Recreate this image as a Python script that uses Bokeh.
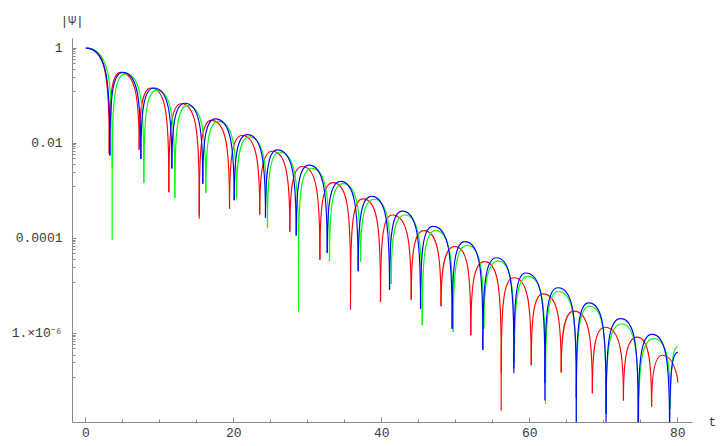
from bokeh.plotting import figure
from bokeh.models import Range1d, FixedTicker, CustomJSTickFormatter, LogAxis
from bokeh.embed import file_html
from bokeh.resources import INLINE

# ---------------- data ----------------
# red curve
red_peak_t = [0.0, 4.69, 8.83, 12.89, 16.94, 21.10, 25.18, 29.24, 33.38, 37.44,
              41.40, 45.68, 49.87, 53.88, 57.84, 61.80, 65.95, 70.14, 74.50, 77.90]
red_peak = [1.0, 0.309, 0.145, 0.0676, 0.0302, 0.0145, 6.76e-3, 3.24e-3, 1.48e-3, 6.76e-4,
            3.09e-4, 1.45e-4, 6.76e-5, 3.24e-5, 1.48e-5, 6.76e-6, 2.95e-6, 1.35e-6, 8.32e-7, 3.47e-7]
red_zero_t = [3.16, 7.21, 11.22, 15.32, 19.42, 23.50, 27.57, 31.63, 35.77, 39.82,
              43.97, 48.00, 52.03, 56.13, 60.19, 64.24, 68.45, 72.65, 76.45]
red_dip = [6.03e-3, 7.24e-3, 9.33e-4, 2.57e-4, 4.17e-4, 3.16e-4, 1.38e-4, 3.55e-5, 3.16e-6, 4.57e-6,
           5.13e-6, 3.72e-6, 9.12e-7, 2.40e-8, 2.14e-7, 1.51e-7, 5.50e-8, 3.89e-8, 2.88e-8]
red_end_t = 80.0
red_end = 9.33e-8

# green curve
green_peak_t = [0.0, 5.36, 9.55, 13.70, 17.89, 22.10, 26.20, 30.50, 34.73, 38.92,
                43.10, 47.26, 51.53, 55.73, 59.73, 63.85, 68.10, 72.40, 76.76]
green_peak = [1.0, 0.288, 0.129, 0.0617, 0.0288, 0.0135, 6.46e-3, 2.95e-3, 1.41e-3, 6.61e-4,
              3.09e-4, 1.45e-4, 7.08e-5, 3.31e-5, 1.58e-5, 7.59e-6, 3.72e-6, 1.58e-6, 7.76e-7]
green_zero_t = [3.56, 7.84, 12.03, 16.22, 20.36, 24.55, 28.74, 32.93, 37.12, 41.27,
                45.46, 49.65, 53.79, 57.92, 62.12, 66.30, 70.30, 74.68, 79.00]
green_dip = [9.33e-5, 1.45e-3, 7.08e-4, 9.12e-4, 6.76e-4, 1.66e-4, 2.82e-6, 3.31e-5, 3.16e-5, 1.10e-5,
             1.48e-6, 1.07e-6, 1.26e-6, 2.51e-7, 3.31e-8, 1.0e-9, 2.04e-8, 1.0e-9, 2.57e-8]
green_end_t = 80.0
green_end = 5.25e-7

# blue curve
blue_peak_t = [0.0, 5.00, 9.19, 13.38, 17.48, 21.80, 25.86, 30.14, 34.42, 38.60,
               42.75, 46.90, 51.20, 55.50, 59.42, 63.80, 67.97, 72.26, 76.50]
blue_peak = [1.0, 0.309, 0.145, 0.0692, 0.0324, 0.0151, 7.24e-3, 3.47e-3, 1.58e-3, 7.59e-4,
             3.72e-4, 1.78e-4, 8.51e-5, 3.89e-5, 1.86e-5, 9.12e-6, 4.37e-6, 2.04e-6, 9.55e-7]
blue_zero_t = [3.25, 7.44, 11.63, 15.81, 20.05, 24.28, 28.43, 32.62, 36.80, 41.04,
               45.23, 49.50, 53.65, 57.84, 62.03, 66.27, 70.30, 74.64, 78.88]
blue_dip = [5.50e-3, 4.68e-3, 2.95e-3, 1.41e-3, 6.31e-4, 2.69e-4, 1.15e-4, 4.90e-5, 2.04e-5, 8.32e-6,
            3.31e-6, 1.26e-6, 4.47e-7, 1.45e-7, 3.89e-8, 1.0e-9, 1.0e-9, 1.0e-9, 1.0e-9]
blue_end_t = 80.0
blue_end = 3.98e-7

# axes
x_major = [0, 20, 40, 60, 80]
x_minor = [5, 10, 15, 25, 30, 35, 45, 50, 55, 65, 70, 75]
y_major = [1.0, 1e-2, 1e-4, 1e-6]
y_labels = ["1", "0.01", "0.0001", "1.\u00d710\u207b\u2076"]
y_minor_mant = [0.92, 0.85, 0.76, 0.67, 0.58, 0.47, 0.35, 0.24, 0.12]
x_start, x_end = -1.80, 81.98
y_start, y_end = 1.337e-8, 1.592
y_axis_name = "|\u03a8|"
x_axis_name = "t"

# ---------------- styling constants ----------------
HANDLE = 0.8      # horizontal handle length at a crest (fraction of half-lobe)
KNEE = 0.295      # height of the vertical handle (ratio of crest value)
SHOULDER = 0.01   # where the vertical spike into a dip begins (ratio of crest value)
LW = 1.15
AXIS_COLOR = "#8a8a8a"
TEXT_COLOR = "#3a3a3a"
FONT = "Liberation Mono"

p = figure(width=722, height=446, output_backend="svg", toolbar_location=None,
           y_axis_type="log",
           x_range=Range1d(x_start, x_end), y_range=Range1d(y_start, y_end),
           min_border_left=72, min_border_right=30, min_border_top=38, min_border_bottom=24)
p.outline_line_color = None
p.grid.visible = False
p.background_fill_color = "white"
p.border_fill_color = "white"

# y-axis name shown as the (left-aligned) title over the y axis
p.title.text = y_axis_name
p.title.align = "left"
p.title.offset = -12
p.title.standoff = 20
p.title.text_font = FONT
p.title.text_font_size = "13px"
p.title.text_font_style = "normal"
p.title.text_color = TEXT_COLOR


def build(peak_t, peak_v, zero_t, dip_v, end_t, end_v):
    b = {k: [] for k in ("x0", "y0", "x1", "y1", "cx0", "cy0", "cx1", "cy1")}
    s = {"x": [], "ya": [], "yb": []}

    def add(x0, y0, x1, y1, cx0, cy0, cx1, cy1):
        for k, v in zip(("x0", "y0", "x1", "y1", "cx0", "cy0", "cx1", "cy1"),
                        (x0, y0, x1, y1, cx0, cy0, cx1, cy1)):
            b[k].append(v)

    def fall(tp, vp, tz, vs):
        add(tp, vp, tz, vs, tp + HANDLE * (tz - tp), vp, tz, max(vp * KNEE, vs))

    def rise(tz, vs, tp, vp):
        add(tz, vs, tp, vp, tz, max(vp * KNEE, vs), tp - HANDLE * (tp - tz), vp)

    n = len(zero_t)
    for i in range(n):
        tz, vz = zero_t[i], dip_v[i]
        tp, vp = peak_t[i], peak_v[i]
        shl = max(vz, vp * SHOULDER)
        fall(tp, vp, tz, shl)
        if i + 1 < len(peak_t):
            tn, vn = peak_t[i + 1], peak_v[i + 1]
        else:
            tn, vn = end_t, end_v
        shr = max(vz, vn * SHOULDER)
        rise(tz, shr, tn, vn)
        s["x"].append(tz)
        s["ya"].append(vz)
        s["yb"].append(max(shl, shr))
    if len(peak_t) > n:
        fall(peak_t[n], peak_v[n], end_t, end_v)
    return b, s


for color, args in (("#ff0000", (red_peak_t, red_peak, red_zero_t, red_dip, red_end_t, red_end)),
                    ("#00ff00", (green_peak_t, green_peak, green_zero_t, green_dip, green_end_t, green_end)),
                    ("#0000ff", (blue_peak_t, blue_peak, blue_zero_t, blue_dip, blue_end_t, blue_end))):
    b, s = build(*args)
    p.bezier(x0=b["x0"], y0=b["y0"], x1=b["x1"], y1=b["y1"],
             cx0=b["cx0"], cy0=b["cy0"], cx1=b["cx1"], cy1=b["cy1"],
             line_color=color, line_width=LW)
    p.segment(x0=s["x"], y0=s["ya"], x1=s["x"], y1=s["yb"], line_color=color, line_width=LW)

# x axis
xa = p.xaxis[0]
xa.ticker = FixedTicker(ticks=x_major, minor_ticks=x_minor)
# y axis
ya = p.yaxis[0]
y_minor = [m * mm for m in y_major for mm in y_minor_mant]
ya.ticker = FixedTicker(ticks=y_major, minor_ticks=y_minor)
ya.formatter = CustomJSTickFormatter(args=dict(vals=y_major, labs=y_labels), code="""
for (let i = 0; i < vals.length; i++) {
  if (Math.abs(Math.log10(tick) - Math.log10(vals[i])) < 1e-6) return labs[i];
}
return "";
""")

for ax in (xa, ya):
    ax.axis_line_color = AXIS_COLOR
    ax.axis_line_width = 1
    ax.major_tick_line_color = AXIS_COLOR
    ax.minor_tick_line_color = AXIS_COLOR
    ax.major_tick_out = 0
    ax.minor_tick_out = 0
    ax.minor_tick_in = 3
    ax.major_label_text_font = FONT
    ax.major_label_text_font_size = "13px"
    ax.major_label_text_color = TEXT_COLOR
xa.major_tick_in = 5
xa.major_label_standoff = 5
ya.major_tick_in = 4
ya.major_label_standoff = 10

# x-axis name "t": shown as the horizontal label of an empty axis on the right,
# aligned with the bottom end of the frame (i.e. level with the x axis)
ra = LogAxis(ticker=FixedTicker(ticks=[]), axis_line_color=None,
             major_tick_line_color=None, minor_tick_line_color=None,
             axis_label=x_axis_name, axis_label_orientation="horizontal",
             axis_label_standoff=16, axis_label_text_font=FONT,
             axis_label_text_font_size="13px", axis_label_text_font_style="normal",
             axis_label_text_color=TEXT_COLOR, axis_label_text_baseline="middle",
             major_label_standoff=0)
ra.axis_label_align = "start"
p.add_layout(ra, "right")

open("out.html", "w").write(file_html(p, INLINE))
